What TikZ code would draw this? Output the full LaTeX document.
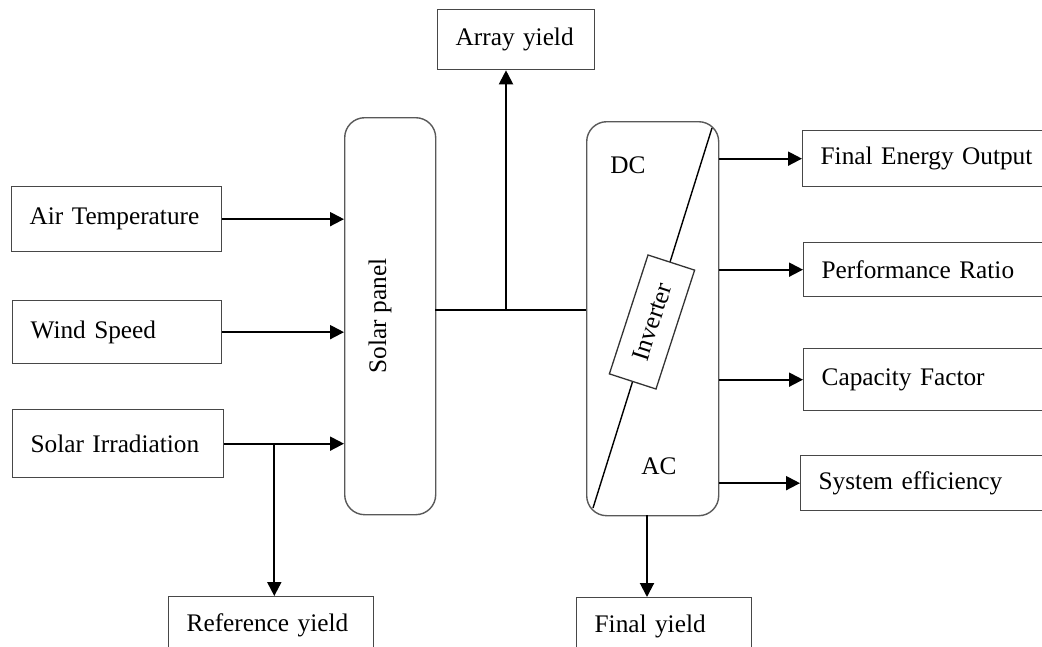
\documentclass[tikz,border=0pt]{standalone}
\usepackage{fontspec}
\setmainfont{Liberation Serif}
\usetikzlibrary{arrows.meta}
\begin{document}
\begin{tikzpicture}[x=1pt,y=-1pt,
  txt/.style={font=\fontsize{25.3}{30}\selectfont},
  box/.style={txt, draw=black!72, line width=1.3pt, rectangle, anchor=north west,
    inner xsep=18pt, inner ysep=0pt, align=left},
  rbox/.style={draw=black!65, line width=1.4pt, rectangle, rounded corners=20pt,
    anchor=north west, inner sep=0pt},
  link/.style={line width=2pt, black},
  arr/.style={link, -{Triangle[length=14pt,width=14pt]}}]
\useasboundingbox (0,0) rectangle (1042,646);

% inputs
\node[box, minimum width=210pt, minimum height=65pt, text width=174pt] (air) at (11,186) {Air Temperature};
\node[box, minimum width=209pt, minimum height=63pt, text width=173pt] (wind) at (12,300) {Wind Speed};
\node[box, minimum width=211pt, minimum height=68pt, text width=175pt] (irr) at (12,409) {Solar Irradiation};

% solar panel
\node[rbox, minimum width=91pt, minimum height=397pt] (sp) at (344,117) {};
\node[txt, rotate=90] (splabel) at (380,316) {Solar panel};

% inverter housing with DC/AC split
\node[rbox, minimum width=132pt, minimum height=394pt] (inv) at (586,121) {};
\coordinate (dlow) at (593,508);
\coordinate (dhigh) at (712,128);
\draw[line width=1.4pt] (dlow) -- (dhigh);
\node[txt, draw=black!80, line width=1.3pt, fill=white, rotate=72,
  minimum width=125pt, minimum height=49pt, inner sep=0pt] (invc) at (652,322) {Inverter};
\node[txt] (dc) at (628,165) {DC};
\node[txt] (ac) at (659,466) {AC};

% outputs
\node[box, minimum width=157pt, minimum height=60pt, text width=121pt] (ay) at (437,9) {Array yield};
\node[box, minimum width=260pt, minimum height=56pt, text width=224pt] (feo) at (802,130) {Final Energy Output};
\node[box, minimum width=260pt, minimum height=54pt, text width=224pt] (pr) at (803,242) {Performance Ratio};
\node[box, minimum width=260pt, minimum height=62pt, text width=224pt] (cf) at (803,348) {Capacity Factor};
\node[box, minimum width=260pt, minimum height=55pt, text width=224pt] (se) at (800,455) {System efficiency};
\node[box, minimum width=205pt, minimum height=58pt, text width=169pt] (ry) at (168,596) {Reference yield};
\node[box, minimum width=175pt, minimum height=58pt, text width=139pt] (fy) at (576,597) {Final yield};

% weather inputs into the panel
\draw[arr] (air.east) -- (air.east -| sp.west);
\draw[arr] (wind.east) -- (wind.east -| sp.west);
\draw[arr] (irr.east) -- (irr.east -| sp.west);
\path (irr.east) ++(50,0) coordinate (rb);
\draw[arr] (rb) -- (rb |- ry.north);

% DC bus from panel to inverter
\coordinate (busL) at (435,310);
\coordinate (busJ) at (506,310);
\draw[link] (busL) -- (busL -| inv.west);
\draw[arr] (busJ) -- (busJ |- ay.south);

% inverter outputs
\draw[arr] (feo.west -| inv.east) -- (feo.west);
\draw[arr] (pr.west -| inv.east) -- (pr.west);
\draw[arr] (cf.west -| inv.east) -- (cf.west);
\draw[arr] (se.west -| inv.east) -- (se.west);
\coordinate (invb) at (647,515);
\draw[arr] (invb) -- (invb |- fy.north);
\end{tikzpicture}
\end{document}
